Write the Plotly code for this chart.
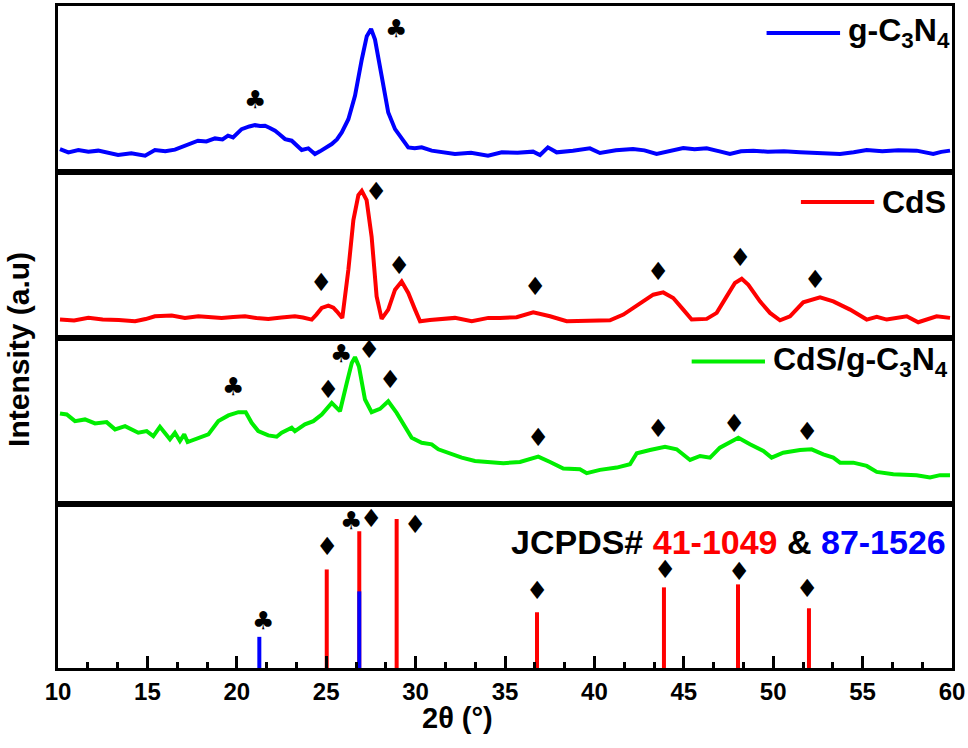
import plotly.graph_objects as go

# ---------------- data ----------------
# g-C3N4 (panel 1), intensity in arbitrary units
g_x = [10.11, 10.58, 11.14, 11.70, 12.25, 12.80, 13.36, 14.10, 14.87, 15.42, 16.00, 16.54, 17.27, 17.83,
       18.30, 18.78, 19.20, 19.51, 19.79, 20.27, 20.70, 21.02, 21.30, 21.58, 21.85, 22.14, 22.40, 22.70,
       23.07, 23.35, 23.63, 24.00, 24.37, 24.65, 24.93, 25.31, 25.60, 25.87, 26.24, 26.61, 26.99, 27.27,
       27.51, 27.73, 28.10, 28.47, 28.85, 29.22, 29.59, 29.95, 30.34, 30.90, 31.50, 32.20, 33.10, 34.05,
       34.82, 35.70, 36.57, 36.96, 37.40, 37.89, 38.80, 39.75, 40.31, 41.20, 42.16, 42.80, 43.48, 44.20,
       44.97, 45.60, 46.28, 47.00, 47.58, 48.20, 48.89, 49.70, 50.60, 51.50, 52.60, 53.74, 54.50, 55.23,
       56.10, 57.00, 58.02, 58.95, 59.40, 59.89]
g_y = [23.3, 20.0, 22.3, 20.5, 21.7, 20.0, 17.3, 19.0, 16.7, 22.3, 21.0, 22.7, 27.3, 31.7,
       31.0, 34.0, 33.0, 36.7, 35.0, 43.3, 46.0, 47.3, 46.5, 46.7, 44.5, 41.7, 38.0, 33.3,
       31.7, 27.0, 22.3, 24.0, 18.3, 21.0, 24.0, 28.3, 33.0, 40.0, 53.3, 76.7, 113.3, 136.7,
       144.0, 133.3, 96.7, 60.0, 43.3, 33.3, 25.0, 24.0, 25.0, 21.7, 20.5, 18.3, 19.5, 16.7,
       20.0, 19.5, 20.7, 17.3, 25.0, 20.0, 21.5, 24.0, 19.3, 22.0, 23.3, 22.0, 18.3, 21.5,
       24.3, 23.0, 24.0, 21.0, 18.3, 21.0, 21.7, 20.5, 21.0, 20.0, 19.5, 18.3, 20.0, 22.3,
       21.0, 22.0, 21.7, 18.3, 20.5, 21.7]

# CdS (panel 2)
c_x = [10.11, 10.90, 11.70, 12.50, 13.40, 14.31, 14.90, 15.42, 16.36, 17.10, 17.85, 18.50, 19.15,
       19.80, 20.46, 21.10, 21.76, 22.50, 23.25, 23.70, 24.19, 24.45, 24.75, 25.12, 25.40, 25.59,
       25.90, 26.24, 26.52, 26.80, 26.99, 27.26, 27.54, 27.82, 28.10, 28.47, 28.85, 29.22, 29.59,
       29.97, 30.25, 30.80, 31.27, 32.20, 33.14, 34.07, 34.72, 35.65, 36.58, 37.52, 38.45, 39.60,
       40.87, 41.62, 42.55, 43.29, 43.85, 44.41, 44.97, 45.44, 46.28, 46.84, 47.40, 47.86, 48.24,
       48.61, 49.26, 49.82, 50.38, 50.94, 51.68, 52.62, 53.36, 54.30, 55.23, 55.79, 56.35, 56.90,
       57.47, 58.11, 58.60, 59.14, 59.89]
c_y = [19.0, 18.0, 20.7, 19.0, 18.5, 17.3, 19.5, 22.3, 23.0, 20.5, 22.3, 21.0, 20.7,
       21.5, 22.3, 20.5, 19.7, 21.0, 22.3, 21.0, 19.0, 24.0, 30.7, 33.0, 31.0, 27.3,
       20.7, 69.0, 119.0, 144.0, 148.3, 139.0, 102.3, 42.3, 19.7, 29.0, 49.0, 57.3, 45.7,
       29.0, 17.3, 18.5, 19.0, 20.7, 17.3, 20.7, 20.7, 21.3, 26.3, 22.3, 17.3, 17.5,
       18.3, 24.0, 35.7, 44.0, 46.3, 40.7, 29.0, 19.0, 19.7, 25.7, 42.3, 55.7, 60.0,
       54.0, 37.3, 25.7, 18.3, 22.3, 36.3, 41.3, 37.3, 29.0, 19.0, 21.7, 19.0, 20.5,
       22.3, 16.3, 19.5, 22.3, 20.7]

# CdS/g-C3N4 (panel 3)
m_x = [10.11, 10.49, 10.95, 11.51, 12.07, 12.72, 13.19, 13.75, 14.49, 14.96, 15.33, 15.70, 16.26,
       16.54, 16.82, 17.06, 17.25, 17.85, 18.41, 18.97, 19.53, 20.09, 20.50, 20.83, 21.20, 21.76,
       22.23, 22.51, 23.07, 23.25, 23.81, 24.28, 24.75, 25.31, 25.77, 26.15, 26.43, 26.61, 26.83,
       27.17, 27.54, 28.01, 28.47, 28.94, 29.41, 29.78, 30.34, 30.90, 31.27, 31.83, 32.58, 33.32,
       34.07, 34.91, 35.84, 36.86, 37.52, 38.26, 39.19, 39.57, 40.31, 41.25, 41.99, 42.37, 43.11,
       43.95, 44.60, 45.35, 45.91, 46.47, 47.02, 47.58, 48.05, 48.70, 49.45, 49.91, 50.56, 51.50,
       52.15, 52.80, 53.36, 53.74, 54.48, 55.23, 55.79, 56.72, 58.02, 58.77, 59.33, 59.89]
m_y = [90.7, 89.7, 83.0, 84.7, 80.7, 82.0, 74.7, 78.0, 71.3, 73.0, 68.0, 77.3, 64.7,
       71.3, 63.0, 69.7, 62.0, 66.3, 69.7, 83.0, 88.7, 92.0, 92.0, 81.3, 73.0, 68.7,
       67.3, 71.3, 76.3, 73.0, 79.7, 83.0, 89.7, 101.3, 93.0, 121.3, 141.3, 147.3, 138.0,
       104.7, 92.0, 95.3, 103.0, 91.3, 76.3, 66.3, 61.3, 59.7, 54.7, 51.3, 46.3, 43.0,
       42.0, 40.7, 42.0, 47.3, 42.0, 35.3, 34.7, 30.7, 34.0, 36.3, 39.7, 50.7, 54.0,
       57.3, 54.7, 44.0, 48.0, 46.3, 56.3, 61.3, 66.3, 59.7, 53.0, 46.3, 51.3, 54.0,
       54.7, 49.7, 46.3, 41.3, 41.3, 38.0, 32.0, 29.7, 28.7, 26.3, 28.7, 28.7]

# JCPDS reference lines (panel 4)
cds_ref_x = [25.03, 26.85, 28.94, 36.79, 43.89, 48.03, 52.00]
cds_ref_h = [99.0, 137.3, 149.7, 56.0, 81.0, 84.0, 60.0]
gcn_ref_x = [21.26, 26.85]
gcn_ref_h = [31.3, 77.0]

# peak markers: (2theta, height, symbol) per panel
marks_1 = [(21.02, 73, "♣"), (28.90, 144, "♣")]
marks_2 = [(24.71, 56, "♦"), (27.79, 148, "♦"), (29.07, 73, "♦"), (36.68, 52, "♦"),
           (43.56, 67, "♦"), (48.14, 81, "♦"), (52.34, 59, "♦")]
marks_3 = [(19.79, 118, "♣"), (25.83, 151, "♣"), (27.39, 155, "♦"), (25.10, 115, "♦"),
           (28.57, 125, "♦"), (36.85, 67, "♦"), (43.56, 76, "♦"), (47.81, 81, "♦"), (51.89, 73, "♦")]
marks_4 = [(21.46, 48, "♣"), (25.04, 122, "♦"), (26.39, 148, "♣"), (27.50, 150, "♦"),
           (29.97, 144, "♦"), (36.79, 78, "♦"), (43.95, 99, "♦"), (48.09, 97, "♦"), (51.89, 80, "♦")]

x_ticks = [10, 15, 20, 25, 30, 35, 40, 45, 50, 55, 60]

# ---------------- figure ----------------
BLUE, RED, GREEN = "#0000FF", "#FF0000", "#00EE00"
FONT = "Liberation Sans, Arial, sans-serif"
panel_h = [167, 167, 166, 165]          # panel 1 (top) .. panel 4 (bottom)
total = sum(panel_h)
b3 = panel_h[3] / total
b2 = (panel_h[3] + panel_h[2]) / total
b1 = (panel_h[3] + panel_h[2] + panel_h[1]) / total
domains = {1: [b1, 1], 2: [b2, b1], 3: [b3, b2], 4: [0, b3]}

fig = go.Figure()

axmap = {1: ("x2", "y2"), 2: ("x3", "y3"), 3: ("x4", "y4"), 4: ("x", "y")}

fig.add_trace(go.Scatter(x=g_x, y=g_y, mode="lines", line=dict(color=BLUE, width=4),
                         xaxis=axmap[1][0], yaxis=axmap[1][1], showlegend=False))
fig.add_trace(go.Scatter(x=c_x, y=c_y, mode="lines", line=dict(color=RED, width=4),
                         xaxis=axmap[2][0], yaxis=axmap[2][1], showlegend=False))
fig.add_trace(go.Scatter(x=m_x, y=m_y, mode="lines", line=dict(color=GREEN, width=4),
                         xaxis=axmap[3][0], yaxis=axmap[3][1], showlegend=False))

def stems(xs, hs):
    X, Y = [], []
    for a, h in zip(xs, hs):
        X += [a, a, None]
        Y += [0, h, None]
    return X, Y

sx, sy = stems(cds_ref_x, cds_ref_h)
fig.add_trace(go.Scatter(x=sx, y=sy, mode="lines", line=dict(color=RED, width=4),
                         xaxis="x", yaxis="y", showlegend=False))
sx, sy = stems(gcn_ref_x, gcn_ref_h)
fig.add_trace(go.Scatter(x=sx, y=sy, mode="lines", line=dict(color=BLUE, width=4),
                         xaxis="x", yaxis="y", showlegend=False))

annotations = []
for p, marks in zip([1, 2, 3, 4], [marks_1, marks_2, marks_3, marks_4]):
    xa, ya = axmap[p]
    for (mx, my, s) in marks:
        annotations.append(dict(x=mx, y=my, xref=xa, yref=ya, text=s, showarrow=False,
                                font=dict(family="DejaVu Sans", size=25, color="black"),
                                xanchor="center", yanchor="middle"))

# legend-like labels
leg = [
    (1, 49.63, 53.74, 140, 54.05, "g-C<sub>3</sub>N<sub>4</sub>", BLUE),
    (2, 51.55, 55.65, 137, 55.98, "CdS", RED),
    (3, 45.44, 49.54, 143, 49.88, "CdS/g-C<sub>3</sub>N<sub>4</sub>", GREEN),
]
shapes = []
for p, x0, x1, yy, xt, txt, col in leg:
    xa, ya = axmap[p]
    shapes.append(dict(type="line", xref=xa, yref=ya, x0=x0, x1=x1, y0=yy, y1=yy,
                       line=dict(color=col, width=4)))
    annotations.append(dict(x=xt, y=yy, xref=xa, yref=ya, text=txt, showarrow=False,
                            xanchor="left", yanchor="middle",
                            font=dict(family=FONT, size=32, color="black", weight="bold")))

annotations.append(dict(x=35.2, y=127, xref="x", yref="y", showarrow=False,
                        xanchor="left", yanchor="middle",
                        text='JCPDS# <span style="color:#FF0000">41-1049</span> &amp; '
                             '<span style="color:#0000FF">87-1526</span>',
                        font=dict(family=FONT, size=34, color="black", weight="bold")))

# axis titles
annotations.append(dict(x=32.32, y=-0.075, xref="x", yref="paper", showarrow=False,
                        text="2θ (°)", xanchor="center", yanchor="middle",
                        font=dict(family=FONT, size=29, color="black", weight="bold")))
annotations.append(dict(x=-0.0436, y=0.4805, xref="paper", yref="paper", showarrow=False,
                        text="Intensity (a.u)", textangle=-90, xanchor="center", yanchor="middle",
                        font=dict(family=FONT, size=30, color="black", weight="bold")))

layout = dict(
    width=968, height=748,
    margin=dict(l=58, r=16, t=3, b=80),
    plot_bgcolor="white", paper_bgcolor="white",
    showlegend=False,
    annotations=annotations, shapes=shapes,
)

common_x = dict(range=[10, 60], showline=True, mirror=True, linecolor="black", linewidth=3,
                showgrid=False, zeroline=False)
common_y = dict(showline=True, mirror=True, linecolor="black", linewidth=3, showgrid=False,
                zeroline=False, showticklabels=False, ticks="")

layout["xaxis"] = dict(common_x, anchor="y", tickmode="array", tickvals=x_ticks,
                       ticktext=[str(t) for t in x_ticks], ticks="inside", ticklen=12, tickwidth=3,
                       tickcolor="black",
                       tickfont=dict(family=FONT, size=24, color="black", weight="bold"),
                       minor=dict(tick0=10, dtick=5 / 3, ticks="inside", ticklen=6, tickwidth=3,
                                  tickcolor="black"))
layout["yaxis"] = dict(common_y, domain=domains[4], range=[0, panel_h[3]], anchor="x")
for p in (1, 2, 3):
    xa, ya = axmap[p]
    n = xa[1:]
    layout[f"xaxis{n}"] = dict(common_x, anchor=ya, showticklabels=False, ticks="", matches="x")
    layout[f"yaxis{n}"] = dict(common_y, domain=domains[p], range=[0, panel_h[p - 1]], anchor=xa)

fig.update_layout(**layout)
fig.write_html("out.html", config={"displayModeBar": False},
               post_script="document.body.style.margin='0';document.body.style.overflow='hidden';")
